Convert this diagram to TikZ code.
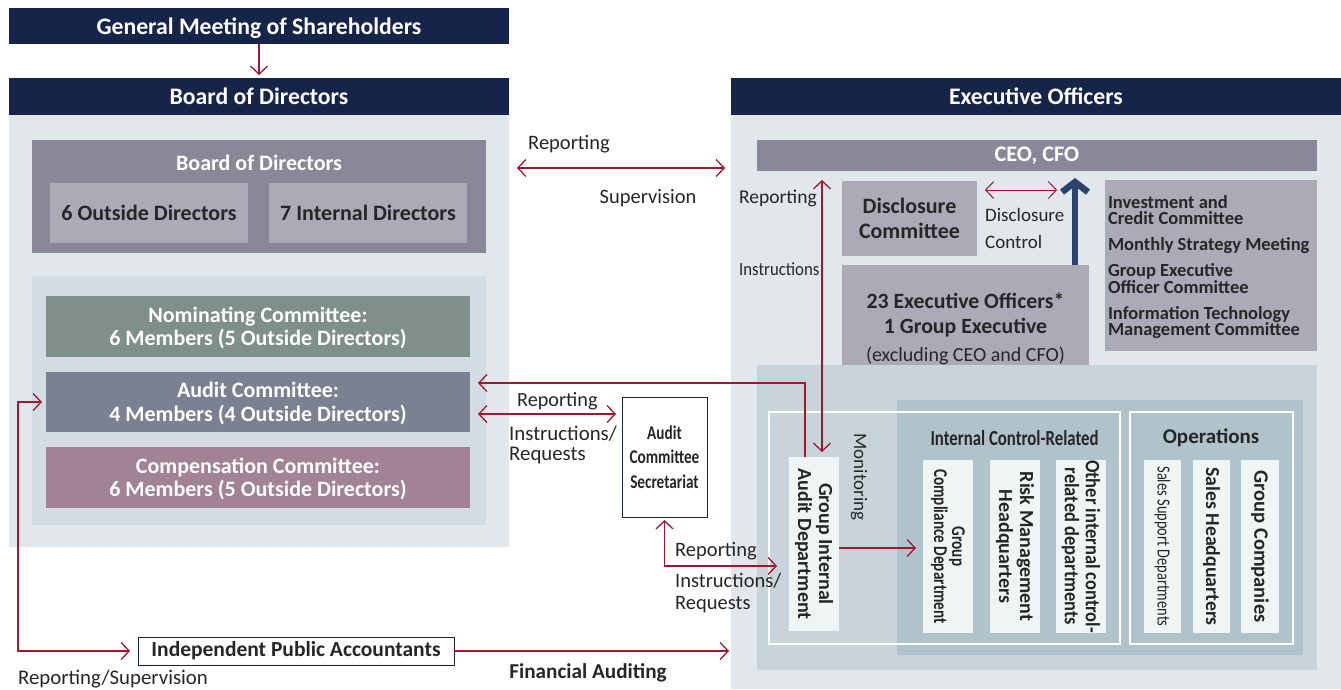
\documentclass[tikz,border=0pt]{standalone}
\usepackage{fontspec}
\setmainfont{Carlito}
\newfontfamily\cond[FakeStretch=0.78]{Carlito}
\newfontfamily\semicond[FakeStretch=0.9]{Carlito}
\usetikzlibrary{arrows.meta}

\definecolor{navy}{HTML}{16244A}
\definecolor{arrred}{HTML}{A0182E}
\definecolor{upnavy}{HTML}{2C4370}
\definecolor{panelc}{HTML}{E1E7EB}
\definecolor{compc}{HTML}{D3DCE2}
\definecolor{bodc}{HTML}{8A8798}
\definecolor{lightc}{HTML}{ACAAB7}
\definecolor{nomc}{HTML}{7E9088}
\definecolor{audc}{HTML}{7B8190}
\definecolor{cmpc}{HTML}{A28295}
\definecolor{lowc}{HTML}{C9D4DA}
\definecolor{icc}{HTML}{B0C3CB}
\definecolor{vboxc}{HTML}{EFF4F5}
\definecolor{txt}{HTML}{262626}

\newcommand\fsz[2]{\fontsize{#1}{#2}\selectfont}

\begin{document}
\begin{tikzpicture}[x=1pt,y=-1pt,
  >={Straight Barb[length=8pt,width=17pt]},
  box/.style={rectangle, inner sep=0pt, outer sep=0pt, draw=none, align=center},
  hdr/.style={box, fill=navy, text=white, text depth=0pt, font=\fsz{23.7}{28}\bfseries},
  panel/.style={box, fill=panelc},
  lbox/.style={box, fill=lightc, text=txt, font=\fsz{22}{25}\bfseries},
  cbox/.style={box, text=white, text depth=0pt, minimum width=424pt, font=\fsz{22}{23.5}\bfseries},
  vbox/.style={box, fill=vboxc, minimum height=173pt},
  vtxt/.style={inner sep=0pt, rotate=-90, align=center, text=txt},
  frame/.style={box, draw=white, line width=1.2pt},
  lab/.style={inner sep=0pt, text=txt, font=\fsz{20.5}{21}},
  arr/.style={draw=arrred, line width=1.3pt, ->},
  darr/.style={draw=arrred, line width=1.3pt, <->},
  bigarr/.style={draw=upnavy, line width=6.5pt, -{Straight Barb[length=10pt,width=26pt]}}
]
\useasboundingbox (0,0) rectangle (1341,689);

% ---------- shareholders and board ----------
\node[hdr, minimum width=500pt, minimum height=36pt] (gms) at (259,26) {General Meeting of Shareholders};
\node[hdr, minimum width=500pt, minimum height=37pt] (bodh) at (259,96.5) {Board of Directors};
\node[panel, minimum width=500pt, minimum height=432pt] (bodp) at (259,331) {};

\node[box, fill=bodc, minimum width=454pt, minimum height=113pt] (bodin) at (259,196.5) {};
\node[inner sep=0pt, text=white, font=\fsz{22}{24}\bfseries] (bodt) at (259,163) {Board of Directors};
\node[lbox, minimum width=198pt, minimum height=60pt] (outd) at (149,213) {6 Outside Directors};
\node[lbox, minimum width=198pt, minimum height=60pt] (intd) at (368,213) {7 Internal Directors};

\node[box, fill=compc, minimum width=454pt, minimum height=249pt] (cpanel) at (259,400.5) {};
\node[cbox, fill=nomc, minimum height=61pt] (nom) at (258,326.5) {Nominating Committee:\\6 Members (5 Outside Directors)};
\node[cbox, fill=audc, minimum height=60pt] (aud) at (258,402) {Audit Committee:\\4 Members (4 Outside Directors)};
\node[cbox, fill=cmpc, minimum height=61pt] (cmp) at (258,477.5) {Compensation Committee:\\6 Members (5 Outside Directors)};

% ---------- executive officers ----------
\node[hdr, minimum width=610pt, minimum height=37pt] (exh) at (1036,96.5) {Executive Officers};
\node[panel, minimum width=610pt, minimum height=574pt] (exp) at (1036,402) {};
\node[box, fill=bodc, text=white, font=\fsz{22.3}{24}\bfseries, minimum width=560pt, minimum height=31pt] (ceo) at (1037,155.5) {CEO, CFO};
\node[lbox, minimum width=135pt, minimum height=75pt] (disc) at (909.5,218.5) {Disclosure\\Committee};
\node[box, fill=lightc, minimum width=212pt, minimum height=171pt] (inv) at (1211,265.5) {};
\node[inner sep=0pt, text width=206pt, align=flush left, text=txt, font=\fsz{18.5}{16.3}\bfseries] (invt) at (1211,267)
  {Investment and\\Credit Committee\\[10pt]Monthly Strategy Meeting\\[10pt]Group Executive\\Officer Committee\\[10pt]Information Technology\\Management Committee};
\node[box, fill=lightc, minimum width=247pt, minimum height=120pt] (exo) at (965.5,325) {};
\node[inner sep=0pt, align=center, text=txt, font=\fsz{21.8}{25}\bfseries] (exot) at (965.5,329)
  {23 Executive Officers*\\1 Group Executive\\[3pt]{\fsz{20}{25}\mdseries (excluding CEO and CFO)}};

% ---------- departments ----------
\node[box, fill=lowc, minimum width=560pt, minimum height=305pt] (lowp) at (1037,517.5) {};
\node[box, fill=icc, minimum width=406pt, minimum height=255pt] (icp) at (1099.5,527.5) {};
\node[frame, minimum width=351pt, minimum height=232pt] (fr1) at (944.5,528) {};
\node[frame, minimum width=163pt, minimum height=232pt] (fr2) at (1211.5,528) {};

\node[inner sep=0pt, text=txt, font=\cond\fsz{21.5}{22}\bfseries] (ict) at (1014.5,438) {Internal Control-Related};
\node[inner sep=0pt, text=txt, font=\fsz{21}{22}\bfseries] (opt) at (1211,438) {Operations};

\node[vbox, minimum width=50pt, minimum height=174pt] (giad) at (814,544) {};
\node[vtxt, font=\fsz{20}{21}\bfseries] (giadt) at (giad) {Group Internal\\Audit Department};
\node[vbox, minimum width=50pt] (gcd) at (948,546.5) {};
\node[vtxt, font=\cond\fsz{19.5}{18}\bfseries] (gcdt) at (gcd) {Group\\Compliance Department};
\node[vbox, minimum width=50pt] (rmh) at (1015,546.5) {};
\node[vtxt, font=\fsz{20}{21}\bfseries] (rmht) at (rmh) {Risk Management\\Headquarters};
\node[vbox, minimum width=50pt] (oth) at (1081,546.5) {};
\node[vtxt, font=\semicond\fsz{20.5}{21}\bfseries] (otht) at (oth) {Other internal control-\\related departments};
\node[vbox, minimum width=37pt] (ssd) at (1162.5,546.5) {};
\node[vtxt, font=\cond\fsz{18.5}{20}] (ssdt) at (ssd) {Sales Support Departments};
\node[vbox, minimum width=37pt] (shq) at (1211.5,546.5) {};
\node[vtxt, font=\fsz{19.8}{21}\bfseries] (shqt) at (shq) {Sales Headquarters};
\node[vbox, minimum width=38pt] (gco) at (1260,546.5) {};
\node[vtxt, font=\fsz{20.5}{21}\bfseries] (gcot) at (gco) {Group Companies};

% ---------- audit secretariat and accountants ----------
\node[box, fill=white, draw=navy, line width=1pt, minimum width=85pt, minimum height=120pt, text=txt, font=\cond\fsz{19.5}{24.5}\bfseries] (sec) at (664.5,457) {Audit\\Committee\\Secretariat};
\node[box, fill=white, draw=navy, line width=1pt, minimum width=316pt, minimum height=28pt, text=txt, font=\fsz{21.5}{22}\bfseries] (ipa) at (296,651) {Independent Public Accountants};

% ---------- labels ----------
\node[lab] (repL) at (569,144) {Reporting};
\node[lab] (supL) at (648,198) {Supervision};
\node[lab, anchor=west, font=\fsz{19.5}{21}] (repV) at (739,198) {Reporting};
\node[lab, anchor=west, font=\semicond\fsz{18.6}{21}] (insV) at (739,269) {Instructions};
\node[lab, anchor=west, font=\fsz{19}{21}] (dscL) at (985,215) {Disclosure};
\node[lab, anchor=west, font=\fsz{19}{21}] (ctlL) at (985,242) {Control};
\node[lab, rotate=-90, font=\fsz{19}{21}] (monL) at (859,477) {Monitoring};
\node[lab, anchor=west, font=\fsz{20.2}{21}] (repA) at (517,401) {Reporting};
\node[lab, anchor=west, align=left, font=\fsz{20.8}{20}] (insA) at (509,445) {Instructions/\\Requests};
\node[lab, anchor=west] (repS) at (675,551) {Reporting};
\node[lab, anchor=west, align=left, font=\fsz{20.5}{22}] (insS) at (675,593) {Instructions/\\Requests};
\node[lab, anchor=west, font=\fsz{20.8}{21}] (rsL) at (18,679) {Reporting/Supervision};
\node[lab, font=\fsz{21.2}{22}\bfseries] (faL) at (588,673) {Financial Auditing};

% ---------- connectors ----------
\coordinate (supy) at (620,168);
\coordinate (secy) at (560,414);
\coordinate (repy) at (560,383);
\coordinate (dscy) at (1057,190);
\coordinate (loop) at (18,651);
\coordinate (iady) at (870,548);
\coordinate (secx) at (700,566);
\coordinate (upx) at (1075,0);

\draw[arr, shorten >=3pt] (gms) -- (bodh);
\draw[darr, shorten <=8pt, shorten >=6pt] (bodp.east |- supy) -- (exp.west |- supy);
\draw[darr, shorten <=8pt, shorten >=6pt] (aud.east |- secy) -- (sec.west |- secy);
\draw[arr, shorten >=8pt] ([xshift=-9pt]giad.north) |- (aud.east |- repy);
\draw[darr, shorten <=9pt, shorten >=5pt] ([xshift=8pt]giad.north |- ceo.south) -- ([xshift=8pt]giad.north);
\draw[darr, line width=1pt, shorten <=8pt] (disc.east |- dscy) -- (dscy);
\draw[bigarr, shorten >=7pt] (exo.north -| upx) -- (ceo.south -| upx);
\draw[arr, shorten >=7pt] (giad.east |- iady) -- (gcd.west |- iady);
\draw[darr, shorten <=3pt, shorten >=12pt] (sec.south) |- (giad.west |- secx);
\draw[darr, shorten <=4pt, shorten >=8pt] (aud.west) -| (loop) -- (ipa.west);
\draw[arr, shorten >=2pt] (ipa.east) -- (exp.west |- ipa.east);
\end{tikzpicture}
\end{document}
